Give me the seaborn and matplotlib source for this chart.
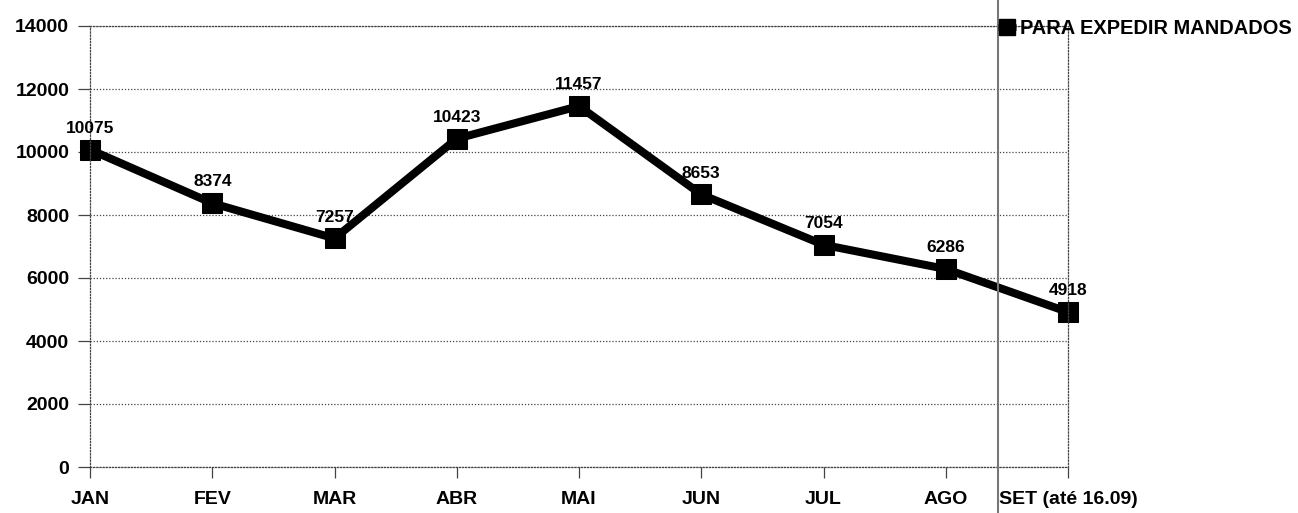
import matplotlib
matplotlib.use("Agg")
import matplotlib.pyplot as plt
from matplotlib.lines import Line2D
import seaborn as sns
import pandas as pd

months = ["JAN", "FEV", "MAR", "ABR", "MAI", "JUN", "JUL", "AGO", "SET (até 16.09)"]
values = [10075, 8374, 7257, 10423, 11457, 8653, 7054, 6286, 4918]
series_name = "PARA EXPEDIR MANDADOS"
y_ticks = [0, 2000, 4000, 6000, 8000, 10000, 12000, 14000]

df = pd.DataFrame({"mes": months, "valor": values, "serie": series_name})

sns.set_theme(style="white")
plt.rcParams["font.family"] = ["Liberation Sans", "DejaVu Sans"]
plt.rcParams["font.weight"] = "bold"

fig = plt.figure(figsize=(12.98, 5.13), dpi=100)
ax = fig.add_axes([90 / 1298, 1 - 467 / 513, (1068 - 90) / 1298, (467 - 26) / 513])

sns.lineplot(data=df, x="mes", y="valor", sort=False, ax=ax, color="black",
             linewidth=5.8, marker="s", markersize=14, markeredgecolor="black",
             legend=False, clip_on=False)

ax.set_xlim(0, len(months) - 1)
ax.set_ylim(0, 14000)
ax.set_yticks(y_ticks)
ax.set_yticklabels([str(t) for t in y_ticks])
ax.set_xlabel("")
ax.set_ylabel("")

ax.grid(True, axis="y", color="#444444", linestyle=(0, (1, 1.5)), linewidth=0.9)
for s in ax.spines.values():
    s.set_color("#444444")
    s.set_linestyle((0, (1, 1.5)))
    s.set_linewidth(0.9)

ax.tick_params(axis="y", which="both", left=True, length=9, width=0.9,
               color="#444444", pad=6, labelsize=14, labelcolor="black")
ax.tick_params(axis="x", which="both", bottom=True, length=8, width=0.9,
               color="#444444", pad=9, labelsize=14, labelcolor="black")

for i, v in enumerate(values):
    ax.annotate(str(v), (i, v), xytext=(0, 10), textcoords="offset points",
                ha="center", va="bottom", fontsize=12.5, color="black",
                annotation_clip=False)

# page border line from the scanned original
fig.add_artist(Line2D([998 / 1298, 998 / 1298], [0, 1], transform=fig.transFigure,
                      color="#777777", linewidth=1.5))

handle = Line2D([], [], color="black", linewidth=5, marker="s", markersize=11,
                solid_capstyle="butt")
leg = fig.legend([handle], [series_name], loc="center left",
                 bbox_to_anchor=(998 / 1298, 1 - 28 / 513), frameon=False,
                 handlelength=0.9, handletextpad=0.2, borderpad=0, borderaxespad=0,
                 prop={"size": 14.4, "weight": "bold"})
for t in leg.get_texts():
    t.set_color("black")

fig.savefig("out.png", dpi=100, facecolor="white")
